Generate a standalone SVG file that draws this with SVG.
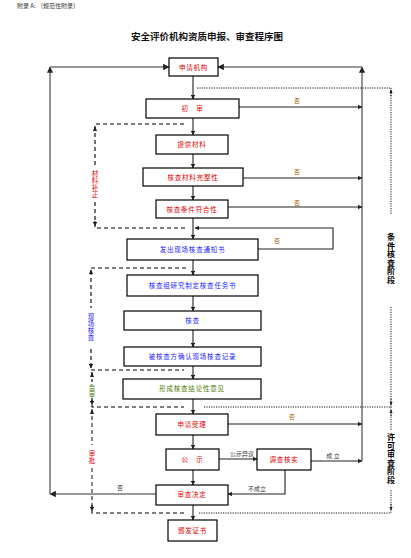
<svg xmlns="http://www.w3.org/2000/svg" width="411" height="558" viewBox="0 0 411 558">
<style>
text{font-family:"Noto Sans CJK SC","Liberation Sans",sans-serif;}
.box{fill:#fff;stroke:#000;stroke-width:1.2;}
.t{font-size:6.5px;text-anchor:middle;letter-spacing:0.8px;}
.red{fill:#e00000;}
.blue{fill:#1a1aff;}
.green{fill:#4a7a00;}
.lbl{font-size:6px;fill:#333;text-anchor:middle;}
.v{writing-mode:vertical-rl;font-size:6.5px;letter-spacing:0.6px;}
.ph{writing-mode:vertical-rl;font-size:8px;font-weight:bold;fill:#000;letter-spacing:0.5px;}
.ln{stroke:#222;stroke-width:1.1;fill:none;}
.gl{stroke:#777;stroke-width:1.6;fill:none;}
.dash{stroke:#000;stroke-width:1.1;fill:none;stroke-dasharray:4,3;}
.dot{stroke:#000;stroke-width:0.9;fill:none;stroke-dasharray:1.2,1.2;}
</style>
<defs>
<marker id="a" viewBox="0 0 6 6" refX="5.5" refY="3" markerWidth="4" markerHeight="4" orient="auto">
<path d="M0,0 L6,3 L0,6 z" fill="#222"/>
</marker>
</defs>

<text x="17" y="8" style="font-size:6px;fill:#333;">附录 A: （规范性附录）</text>
<text x="207" y="40" style="font-size:9.5px;font-weight:bold;text-anchor:middle;fill:#111;">安全评价机构资质申报、审查程序图</text>

<g id="connectors">
<!-- center flow -->
<line class="ln" x1="193" y1="76" x2="193" y2="99" marker-end="url(#a)"/>
<line class="ln" x1="193" y1="118" x2="193" y2="135" marker-end="url(#a)"/>
<line class="ln" x1="193" y1="154" x2="193" y2="168" marker-end="url(#a)"/>
<line class="ln" x1="193" y1="186" x2="193" y2="200" marker-end="url(#a)"/>
<line class="ln" x1="193" y1="218" x2="193" y2="239" marker-end="url(#a)"/>
<line class="ln" x1="193" y1="260" x2="193" y2="275" marker-end="url(#a)"/>
<line class="ln" x1="193" y1="296" x2="193" y2="311" marker-end="url(#a)"/>
<line class="ln" x1="193" y1="330" x2="193" y2="347" marker-end="url(#a)"/>
<line class="ln" x1="193" y1="366" x2="193" y2="379" marker-end="url(#a)"/>
<line class="ln" x1="193" y1="399" x2="193" y2="414" marker-end="url(#a)"/>
<line class="ln" x1="193" y1="435" x2="193" y2="449" marker-end="url(#a)"/>
<line class="ln" x1="193" y1="470" x2="193" y2="485" marker-end="url(#a)"/>
<line class="ln" x1="193" y1="505" x2="193" y2="520" marker-end="url(#a)"/>

<!-- outer left loop -->
<line class="gl" x1="156" y1="494" x2="50" y2="494" marker-end="url(#a)"/>
<line class="gl" x1="50" y1="494" x2="50" y2="67" marker-end="url(#a)"/>
<line class="gl" x1="50" y1="67" x2="169" y2="67" marker-end="url(#a)"/>

<!-- outer right loop -->
<line class="gl" x1="362" y1="461" x2="362" y2="67" marker-end="url(#a)"/>
<line class="gl" x1="362" y1="67" x2="218" y2="67" marker-end="url(#a)"/>

<!-- 否 branches -->
<line class="ln" x1="239" y1="107" x2="362" y2="107" marker-end="url(#a)"/>
<line class="ln" x1="243" y1="178" x2="362" y2="178" marker-end="url(#a)"/>
<line class="ln" x1="228" y1="207" x2="362" y2="207" marker-end="url(#a)"/>
<path class="ln" d="M258,249 L333,249 L333,228 L195,228" marker-end="url(#a)"/>
<line class="ln" x1="228" y1="424" x2="362" y2="424" marker-end="url(#a)"/>
<line class="ln" x1="219" y1="459" x2="257" y2="459" marker-end="url(#a)"/>
<line class="ln" x1="311" y1="461" x2="362" y2="461" marker-end="url(#a)"/>
<path class="ln" d="M285,470 L285,494 L228,494" marker-end="url(#a)"/>

<!-- connector labels -->
<text class="lbl" x="297" y="103" style="fill:#a06000">否</text>
<text class="lbl" x="297" y="174" style="fill:#a06000">否</text>
<text class="lbl" x="297" y="205" style="fill:#a06000">否</text>
<text class="lbl" x="277" y="243" style="fill:#a06000">否</text>
<text class="lbl" x="292" y="419" style="fill:#a06000">否</text>
<text class="lbl" x="120" y="490" style="fill:#333">否</text>
<text class="lbl" x="242" y="456">公示异议</text>
<text class="lbl" x="333" y="458">成 立</text>
<text class="lbl" x="257" y="491">不成立</text>

<!-- left dashed brackets -->
<path class="dash" d="M184,124 L95,124 L95,166"/>
<line class="dash" x1="95" y1="130" x2="95" y2="127" marker-end="url(#a)"/>
<path class="dash" d="M95,202 L95,228 L186,228"/>
<line class="dash" x1="95" y1="221" x2="95" y2="226" marker-end="url(#a)"/>
<text class="v red" x="95" y="170">材料补正</text>

<path class="dash" d="M186,268 L91,268 L91,308"/>
<line class="dash" x1="91" y1="274" x2="91" y2="270" marker-end="url(#a)"/>
<path class="dash" d="M91,349 L91,370 L184,370"/>
<line class="dash" x1="91" y1="364" x2="91" y2="368" marker-end="url(#a)"/>
<text class="v blue" x="91" y="313">现场核查</text>

<path class="dash" d="M92,372 L92,382"/>
<line class="dash" x1="92" y1="377" x2="92" y2="373" marker-end="url(#a)"/>
<path class="dash" d="M92,398 L92,407 L184,407"/>
<line class="dash" x1="92" y1="400" x2="92" y2="405" marker-end="url(#a)"/>
<text class="v green" x="92" y="384">会审</text>

<path class="dash" d="M92,409 L92,445" style="stroke:#555;stroke-width:1.4"/>
<line class="dash" x1="92" y1="414" x2="92" y2="410" marker-end="url(#a)"/>
<path class="dash" d="M92,468 L92,513 L186,513" style="stroke:#555;stroke-width:1.4"/>
<line class="dash" x1="92" y1="505" x2="92" y2="511" marker-end="url(#a)"/>
<text class="v red" x="92" y="450">审批</text>

<!-- right dotted phase brackets -->
<line class="dot" x1="197" y1="88" x2="391" y2="88"/>
<line class="dot" x1="391" y1="96" x2="391" y2="90" marker-end="url(#a)"/>
<line class="dot" x1="391" y1="88" x2="391" y2="215"/>
<line class="dot" x1="391" y1="307" x2="391" y2="407"/>
<line class="dot" x1="391" y1="399" x2="391" y2="405" marker-end="url(#a)"/>
<text class="ph" x="391" y="233">条件核查阶段</text>

<line class="dot" x1="204" y1="407" x2="391" y2="407"/>
<line class="dot" x1="391" y1="407" x2="391" y2="430"/>
<line class="dot" x1="391" y1="416" x2="391" y2="410" marker-end="url(#a)"/>
<line class="dot" x1="391" y1="490" x2="391" y2="513"/>
<line class="dot" x1="391" y1="504" x2="391" y2="510" marker-end="url(#a)"/>
<line class="dot" x1="199" y1="513" x2="391" y2="513"/>
<text class="ph" x="391" y="433">许可审查阶段</text>
</g>

<g id="n1"><rect class="box" x="169" y="58" width="49" height="18"/><text class="t red" x="193.5" y="69.5">申请机构</text></g>
<g id="n2"><rect class="box" x="146" y="99" width="93" height="19"/><text class="t red" x="192.5" y="110.5">初　审</text></g>
<g id="n3"><rect class="box" x="156" y="135" width="72" height="19"/><text class="t red" x="192" y="146.5">提供材料</text></g>
<g id="n4"><rect class="box" x="143" y="168" width="100" height="18"/><text class="t red" x="193" y="179.5">核查材料完整性</text></g>
<g id="n5"><rect class="box" x="156" y="200" width="72" height="18"/><text class="t red" x="192" y="211.5">核查条件符合性</text></g>
<g id="n6"><rect class="box" x="127" y="239" width="131" height="21"/><text class="t blue" x="192.5" y="251.5">发出现场核查通知书</text></g>
<g id="n7"><rect class="box" x="127" y="275" width="131" height="21"/><text class="t blue" x="192.5" y="287.5">核查组研究制定核查任务书</text></g>
<g id="n8"><rect class="box" x="124" y="311" width="137" height="19"/><text class="t blue" x="192.5" y="322.5">核查</text></g>
<g id="n9"><rect class="box" x="124" y="347" width="137" height="19"/><text class="t blue" x="192.5" y="358.5">被核查方确认现场核查记录</text></g>
<g id="n10"><rect class="box" x="123" y="379" width="138" height="20"/><text class="t green" x="192" y="391">形成核查结论性意见</text></g>
<g id="n11"><rect class="box" x="156" y="414" width="72" height="21"/><text class="t red" x="192" y="426.5">申请受理</text></g>
<g id="n12"><rect class="box" x="166" y="449" width="53" height="21"/><text class="t red" x="192.5" y="461.5">公　示</text></g>
<g id="n13"><rect class="box" x="257" y="449" width="54" height="21"/><text class="t red" x="284" y="461.5">调查核实</text></g>
<g id="n14"><rect class="box" x="156" y="485" width="72" height="20"/><text class="t red" x="192" y="497">审查决定</text></g>
<g id="n15"><rect class="box" x="168" y="520" width="49" height="21"/><text class="t red" x="192.5" y="532.5">颁发证书</text></g>
</svg>
